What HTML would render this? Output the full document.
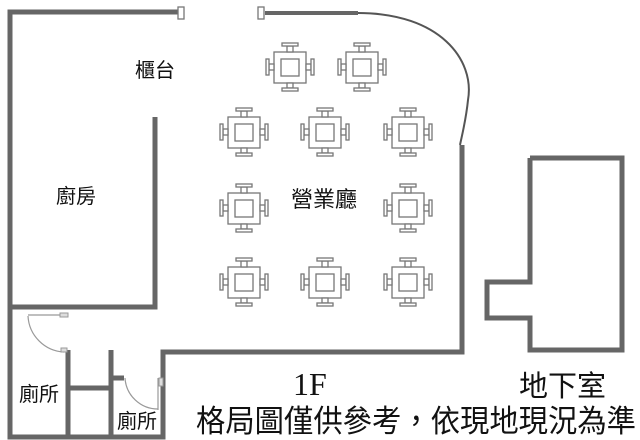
<!DOCTYPE html>
<html><head><meta charset="utf-8"><style>
html,body{margin:0;padding:0;background:#fff;}
svg{display:block}
text{font-family:"Liberation Sans","Noto Sans CJK TC",sans-serif;fill:#111}
</style></head><body>
<svg width="640" height="440" viewBox="0 0 640 440" xmlns="http://www.w3.org/2000/svg">
<defs>
<g id="t" fill="#fff" stroke="#777" stroke-width="1.3">
  <rect x="-16" y="-15" width="32" height="31"/>
  <rect x="-9" y="-8" width="18" height="17"/>
  <rect x="-3" y="-21" width="6" height="6"/><rect x="-8" y="-24" width="16" height="3"/>
  <rect x="-3" y="16" width="6" height="5"/><rect x="-8" y="21" width="16" height="3"/>
  <rect x="-21" y="-3" width="5" height="6"/><rect x="-24" y="-8" width="3" height="16"/>
  <rect x="16" y="-3" width="5" height="6"/><rect x="21" y="-8" width="3" height="16"/>
</g>
</defs>
<g fill="none" stroke="#666" stroke-width="5">
  <polyline points="178,12 10,12 10,437 163,437 163,352 462,352 462,145"/>
  <line x1="265" y1="13" x2="358" y2="13" stroke-width="4"/>
  <polyline points="155,117 155,307 10,307"/>
  <line x1="68" y1="350" x2="68" y2="437"/>
  <line x1="111" y1="350" x2="111" y2="437"/>
  <line x1="68" y1="388" x2="111" y2="388"/>
  <line x1="111" y1="378" x2="124" y2="378"/>
  <polyline points="530,158 622,158 622,350 530,350 530,318 487,318 487,282 530,282 530,158"/>
</g>
<path d="M358,13 C440,13 475,60 468,100 C466,120 462,135 460,145" fill="none" stroke="#555" stroke-width="2"/>
<rect x="178" y="7" width="6" height="12" fill="#fff" stroke="#777" stroke-width="1.3"/>
<rect x="258" y="7" width="6" height="12" fill="#fff" stroke="#777" stroke-width="1.3"/>
<g fill="none" stroke="#999" stroke-width="1.2">
  <path d="M28,316 A38,38 0 0 0 64,352"/>
  <line x1="28" y1="315" x2="66" y2="315"/>
  <path d="M125,378 A33,33 0 0 0 158,409"/>
  <line x1="158" y1="378" x2="158" y2="410"/>
</g>
<rect x="60" y="313" width="8" height="4" fill="#ddd" stroke="#999" stroke-width="1"/>
<rect x="61" y="348" width="6" height="4" fill="#ddd" stroke="#999" stroke-width="1"/>
<rect x="159" y="378" width="4" height="8" fill="#ddd" stroke="#999" stroke-width="1"/>
<use href="#t" x="290" y="67"/><use href="#t" x="362" y="67"/>
<use href="#t" x="244" y="132"/><use href="#t" x="325" y="132"/><use href="#t" x="408" y="132"/>
<use href="#t" x="244" y="208"/><use href="#t" x="408" y="208"/>
<use href="#t" x="244" y="282"/><use href="#t" x="325" y="282"/><use href="#t" x="408" y="282"/>
<text x="135" y="77" font-size="20">櫃台</text>
<text x="56" y="203" font-size="20">廚房</text>
<text x="291" y="207" font-size="22">營業廳</text>
<text x="19" y="401" font-size="20">廁所</text>
<text x="117" y="428" font-size="20">廁所</text>
<text x="293" y="395" font-size="32" style="font-family:'Liberation Serif',serif">1F</text>
<text x="519" y="396" font-size="29">地下室</text>
<text x="196" y="432" font-size="31" textLength="440" lengthAdjust="spacingAndGlyphs">格局圖僅供參考，依現地現況為準</text>
</svg>
</body></html>
